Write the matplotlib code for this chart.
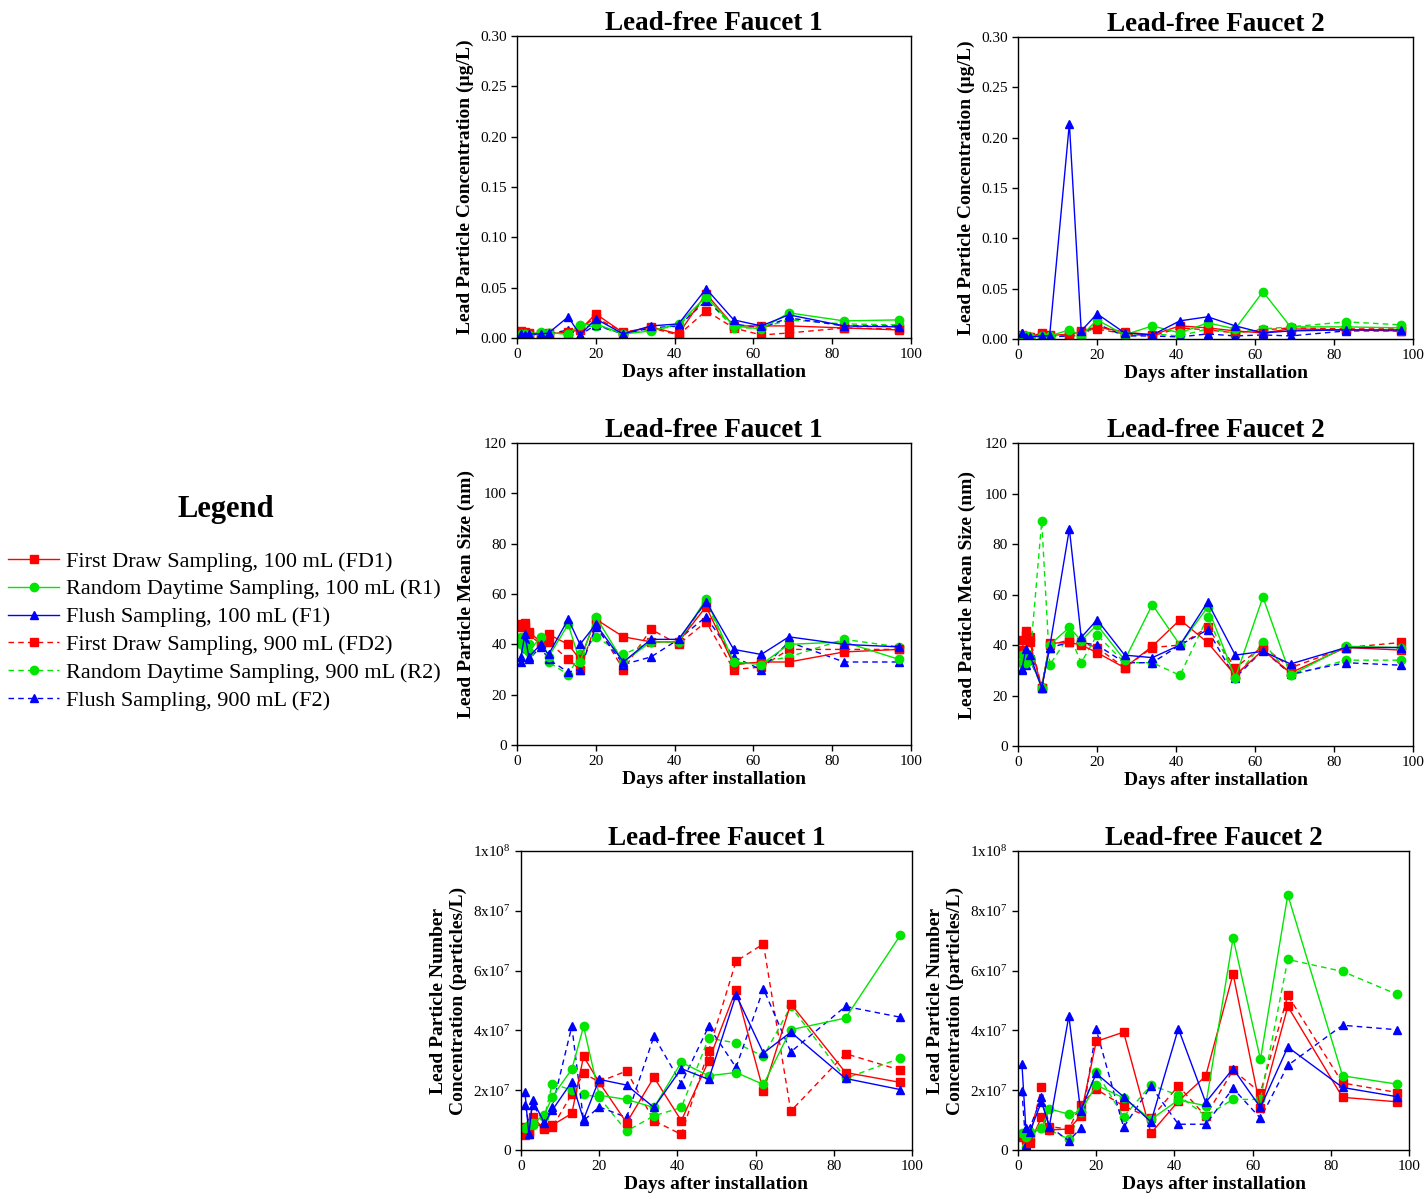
import matplotlib
matplotlib.use("Agg")
import matplotlib.pyplot as plt
from matplotlib.ticker import FuncFormatter

plt.rcParams['font.family'] = ['Liberation Serif', 'DejaVu Serif']
plt.rcParams['mathtext.fontset'] = 'custom'
plt.rcParams['mathtext.rm'] = 'Liberation Serif'

days = [1, 2, 3, 6, 8, 13, 16, 20, 27, 34, 41, 48, 55, 62, 69, 83, 97]

# lead particle concentration (ug/L)
conc1_fd1 = [0.007, 0.006, 0.005, 0.004, 0.004, 0.006, 0.008, 0.024, 0.005, 0.011, 0.004, 0.044, 0.012, 0.012, 0.012, 0.010, 0.008]
conc1_r1 = [0.004, 0.004, 0.003, 0.006, 0.005, 0.004, 0.013, 0.014, 0.004, 0.007, 0.014, 0.041, 0.012, 0.009, 0.025, 0.017, 0.018]
conc1_f1 = [0.004, 0.003, 0.004, 0.004, 0.005, 0.021, 0.003, 0.019, 0.004, 0.012, 0.014, 0.049, 0.018, 0.012, 0.023, 0.012, 0.011]
conc1_fd2 = [0.006, 0.005, 0.004, 0.004, 0.005, 0.005, 0.010, 0.020, 0.006, 0.010, 0.003, 0.027, 0.010, 0.003, 0.005, 0.010, 0.009]
conc1_r2 = [0.004, 0.005, 0.004, 0.005, 0.005, 0.004, 0.011, 0.012, 0.004, 0.008, 0.012, 0.039, 0.010, 0.010, 0.018, 0.014, 0.013]
conc1_f2 = [0.005, 0.004, 0.003, 0.004, 0.004, 0.008, 0.003, 0.013, 0.004, 0.010, 0.012, 0.037, 0.014, 0.010, 0.020, 0.012, 0.012]

conc2_fd1 = [0.003, 0.002, 0.002, 0.006, 0.004, 0.004, 0.007, 0.012, 0.007, 0.004, 0.013, 0.011, 0.008, 0.006, 0.010, 0.009, 0.008]
conc2_r1 = [0.004, 0.003, 0.002, 0.003, 0.003, 0.009, 0.003, 0.019, 0.004, 0.013, 0.006, 0.016, 0.010, 0.047, 0.012, 0.012, 0.011]
conc2_f1 = [0.006, 0.002, 0.002, 0.003, 0.003, 0.214, 0.008, 0.025, 0.006, 0.004, 0.018, 0.022, 0.013, 0.006, 0.008, 0.009, 0.009]
conc2_fd2 = [0.004, 0.003, 0.002, 0.004, 0.003, 0.005, 0.008, 0.010, 0.005, 0.003, 0.011, 0.009, 0.006, 0.009, 0.011, 0.010, 0.010]
conc2_r2 = [0.003, 0.003, 0.002, 0.003, 0.002, 0.004, 0.002, 0.014, 0.003, 0.005, 0.003, 0.010, 0.006, 0.010, 0.012, 0.017, 0.014]
conc2_f2 = [0.006, 0.002, 0.002, 0.002, 0.002, 0.003, 0.004, 0.015, 0.003, 0.003, 0.002, 0.005, 0.003, 0.004, 0.003, 0.008, 0.008]

# mean size (nm)
size1_fd1 = [48, 48.5, 45, 41, 44, 40, 34, 50, 43, 41, 41, 55, 32, 33, 33, 37, 38]
size1_r1 = [40, 39, 37, 43, 35, 48, 33, 51, 33, 41, 41, 58, 33, 32, 40, 41, 34]
size1_f1 = [35, 44, 35, 40, 36, 50, 40, 48, 33, 42, 42, 57, 38, 36, 43, 40, 39]
size1_fd2 = [47, 47, 44, 40, 41, 34, 30, 48, 30, 46, 40, 49, 30, 31, 38, 38, 38]
size1_r2 = [43, 38, 40, 42, 33, 28, 36, 43, 36, 41, 41, 57, 32, 33, 35, 42, 39]
size1_f2 = [33, 42, 34, 39, 34, 29, 30, 47, 32, 35, 42, 51, 35, 30, 41, 33, 33]

size2_fd1 = [38, 45.7, 41, 23, 40.7, 41, 40, 37, 31, 39.5, 50, 41, 28, 38, 29, 39, 38]
size2_r1 = [36, 33, 35, 23, 40, 47, 41.7, 48, 34, 56, 40, 55, 27, 59, 28, 39.5, 39]
size2_f1 = [30.5, 38.5, 36, 23, 39, 86, 43, 50, 36, 35, 40, 57, 36, 37.5, 32.5, 39, 39]
size2_fd2 = [42, 44, 43, 23, 40, 42, 41, 39, 31, 39, 40, 47, 31, 39.5, 31, 39, 41]
size2_r2 = [33, 36, 34, 89, 32, 44, 33, 44, 33, 33, 28, 51, 27, 41, 28, 34, 34]
size2_f2 = [30, 32, 34, 24, 39, 41, 41, 40, 33, 33, 40, 46, 27, 38, 28.5, 33, 32]

# number concentration (x1e7 particles/L)
num1_fd1 = [0.5, 0.53, 1.09, 0.69, 0.83, 1.22, 3.13, 2.26, 0.91, 2.43, 0.98, 2.98, 5.36, 1.97, 4.89, 2.59, 2.26]
num1_r1 = [0.72, 0.83, 0.9, 1.17, 1.78, 2.7, 4.13, 1.83, 1.69, 1.42, 2.93, 2.48, 2.59, 2.19, 4.02, 4.41, 7.18]
num1_f1 = [1.94, 0.52, 1.67, 0.89, 1.33, 2.28, 1.02, 2.36, 2.17, 1.42, 2.72, 2.36, 5.19, 3.24, 3.94, 2.39, 2.02]
num1_fd2 = [0.78, 0.6, 0.9, 0.75, 0.76, 1.87, 2.56, 2.28, 2.64, 0.98, 0.52, 3.32, 6.31, 6.89, 1.3, 3.22, 2.67]
num1_r2 = [0.65, 0.75, 0.85, 1.1, 2.22, 2.0, 1.86, 1.76, 0.63, 1.14, 1.42, 3.74, 3.58, 3.13, 4.8, 2.39, 3.07]
num1_f2 = [1.5, 0.9, 1.5, 0.95, 1.44, 4.13, 0.98, 1.44, 1.09, 3.8, 2.22, 4.13, 2.76, 5.39, 3.28, 4.8, 4.44]

num2_fd1 = [0.5, 0.39, 0.22, 1.09, 0.67, 0.7, 1.13, 3.63, 3.94, 0.56, 1.63, 2.47, 5.89, 1.39, 4.8, 1.76, 1.61]
num2_r1 = [0.56, 0.44, 0.61, 0.72, 1.37, 1.2, 1.28, 2.17, 1.74, 1.02, 1.67, 1.48, 7.09, 3.03, 8.53, 2.48, 2.2]
num2_f1 = [2.87, 0.72, 0.6, 1.61, 0.78, 4.48, 1.31, 2.56, 1.78, 0.94, 4.06, 1.59, 2.72, 1.42, 3.44, 2.09, 1.78]
num2_fd2 = [0.44, 0.33, 0.44, 2.09, 0.78, 0.7, 1.52, 2.03, 1.47, 1.06, 2.14, 1.13, 2.67, 1.92, 5.17, 2.24, 1.92]
num2_r2 = [0.5, 0.11, 0.5, 0.75, 0.67, 0.36, 1.3, 2.61, 1.11, 2.17, 1.83, 1.14, 1.69, 1.69, 6.37, 5.97, 5.2]
num2_f2 = [1.97, 0.17, 0.72, 1.78, 0.78, 0.31, 0.72, 4.03, 0.76, 2.13, 0.86, 0.86, 2.06, 1.06, 2.83, 4.17, 4.02]

labels = ['First Draw Sampling, 100 mL (FD1)', 'Random Daytime Sampling, 100 mL (R1)',
          'Flush Sampling, 100 mL (F1)', 'First Draw Sampling, 900 mL (FD2)',
          'Random Daytime Sampling, 900 mL (R2)', 'Flush Sampling, 900 mL (F2)']
colors = ['#ff0000', '#00e600', '#0000ff', '#ff0000', '#00e600', '#0000ff']
markers = ['s', 'o', '^', 's', 'o', '^']
styles = ['-', '-', '-', (0, (4, 3)), (0, (4, 3)), (0, (4, 3))]

fig = plt.figure(figsize=(14.27, 11.99), dpi=100)

panels = [
    ([0.3623, 0.7181, 0.2761, 0.2519], 'Lead-free Faucet 1', [conc1_fd1, conc1_r1, conc1_f1, conc1_fd2, conc1_r2, conc1_f2], 'conc'),
    ([0.7134, 0.7173, 0.2768, 0.2519], 'Lead-free Faucet 2', [conc2_fd1, conc2_r1, conc2_f1, conc2_fd2, conc2_r2, conc2_f2], 'conc'),
    ([0.3623, 0.3786, 0.2761, 0.2519], 'Lead-free Faucet 1', [size1_fd1, size1_r1, size1_f1, size1_fd2, size1_r2, size1_f2], 'size'),
    ([0.7134, 0.3778, 0.2768, 0.2527], 'Lead-free Faucet 2', [size2_fd1, size2_r1, size2_f1, size2_fd2, size2_r2, size2_f2], 'size'),
    ([0.3651, 0.0409, 0.2740, 0.2494], 'Lead-free Faucet 1', [num1_fd1, num1_r1, num1_f1, num1_fd2, num1_r2, num1_f2], 'num'),
    ([0.7134, 0.0409, 0.2740, 0.2494], 'Lead-free Faucet 2', [num2_fd1, num2_r1, num2_f1, num2_fd2, num2_r2, num2_f2], 'num'),
]


def num_fmt(v, pos):
    if v == 0:
        return '0'
    if v >= 10:
        return r'$\mathregular{1x10^{8}}$'
    return r'$\mathregular{%dx10^{7}}$' % int(round(v))


handles = None
for rect, title, series, kind in panels:
    ax = fig.add_axes(rect)
    lines = []
    for i in [3, 4, 5, 0, 1, 2]:
        ln, = ax.plot(days, series[i], color=colors[i], marker=markers[i], linestyle=styles[i],
                      linewidth=1, markersize=6, label=labels[i])
        lines.append((i, ln))
    if handles is None:
        handles = [ln for i, ln in sorted(lines, key=lambda t: t[0])]
    ax.set_xlim(0, 100)
    ax.set_xticks([0, 20, 40, 60, 80, 100])
    ax.set_title(title, fontsize=19.5, fontweight='bold', pad=3)
    ax.set_xlabel('Days after installation', fontsize=14, fontweight='bold', labelpad=2)
    if kind == 'conc':
        ax.set_ylim(0, 0.3)
        ax.set_yticks([0, 0.05, 0.10, 0.15, 0.20, 0.25, 0.30])
        ax.yaxis.set_major_formatter(FuncFormatter(lambda v, p: '%.2f' % v))
        ax.set_ylabel('Lead Particle Concentration (µg/L)', fontsize=14, fontweight='bold', labelpad=4)
    elif kind == 'size':
        ax.set_ylim(0, 120)
        ax.set_yticks([0, 20, 40, 60, 80, 100, 120])
        ax.set_ylabel('Lead Particle Mean Size (nm)', fontsize=14, fontweight='bold', labelpad=6)
    else:
        ax.set_ylim(0, 10)
        ax.set_yticks([0, 2, 4, 6, 8, 10])
        ax.yaxis.set_major_formatter(FuncFormatter(num_fmt))
        ax.set_ylabel('Lead Particle Number\nConcentration (particles/L)', fontsize=14,
                      fontweight='bold', labelpad=4)
    ax.tick_params(direction='out', length=4, width=1, labelsize=11, top=False, right=False)
    for s in ax.spines.values():
        s.set_linewidth(1)

fig.text(226 / 1427, 1 - 510 / 1199, 'Legend', ha='center', va='center', fontsize=22, fontweight='bold')
fig.legend(handles, labels, loc='upper left', bbox_to_anchor=(8 / 1427, 1 - 551 / 1199),
           frameon=False, fontsize=16, handlelength=2.3, handletextpad=0.3,
           labelspacing=0.33, borderpad=0, borderaxespad=0)

fig.savefig('out.png', dpi=100)
